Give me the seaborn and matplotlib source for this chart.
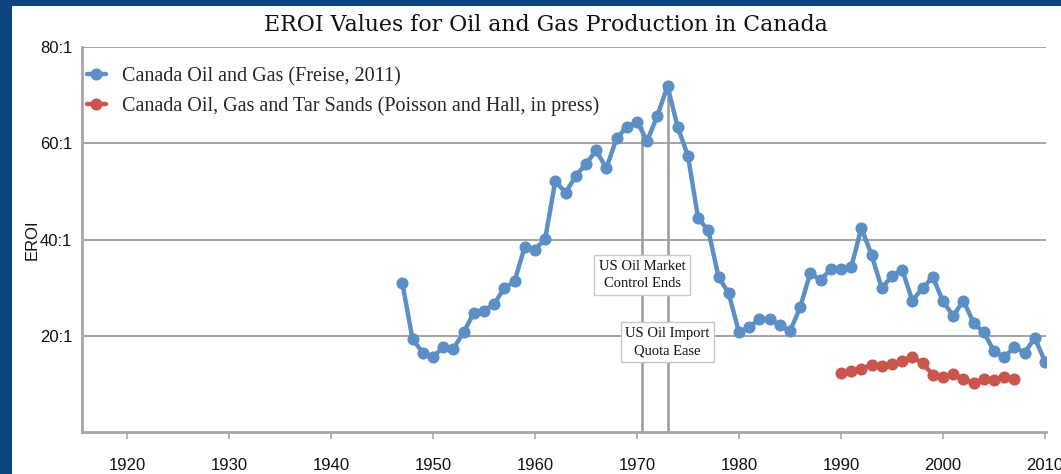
import numpy as np
import pandas as pd
import matplotlib
matplotlib.use("Agg")
import matplotlib.pyplot as plt
import seaborn as sns
from matplotlib.patches import Rectangle
from matplotlib.lines import Line2D

# ---- data ----
freise_years = list(range(1947, 2011))
freise_eroi = [31.0, 19.3, 16.5, 15.5, 17.7, 17.3, 20.7, 24.7, 25.2, 26.6,
               29.9, 31.3, 38.5, 37.9, 40.1, 52.2, 49.7, 53.2, 55.7, 58.5,
               54.8, 61.0, 63.4, 64.5, 60.5, 65.7, 71.9, 63.3, 57.4, 44.4,
               41.9, 32.2, 28.8, 20.7, 21.8, 23.4, 23.5, 22.2, 20.9, 25.9,
               33.1, 31.5, 33.9, 33.9, 34.2, 42.4, 36.8, 29.9, 32.4, 33.7,
               27.3, 29.9, 32.2, 27.2, 24.1, 27.3, 22.7, 20.7, 16.8, 15.5,
               17.7, 16.4, 19.6, 14.6]
ph_years = list(range(1990, 2008))
ph_eroi = [12.3, 12.7, 13.1, 13.9, 13.7, 14.1, 14.8, 15.6, 14.3, 11.9,
           11.4, 12.1, 11.0, 10.2, 11.0, 10.8, 11.4, 11.0]
series_names = ["Canada Oil and Gas (Freise, 2011)",
                "Canada Oil, Gas and Tar Sands (Poisson and Hall, in press)"]
ytick_vals = [20, 40, 60, 80]
ytick_labels = ["20:1", "40:1", "60:1", "80:1"]
xtick_vals = list(range(1920, 2011, 10))
events = ["US Oil Market\nControl Ends", "US Oil Import\nQuota Ease"]
event_years = [1970.5, 1973.0]
event_tops = [63.5, 71.9]
event_label_y = [32.6, 18.7]

df = pd.DataFrame({
    "year": freise_years + ph_years,
    "eroi": freise_eroi + ph_eroi,
    "series": [series_names[0]] * len(freise_years) + [series_names[1]] * len(ph_years),
})

# ---- style ----
sns.set_theme(style="white")
blue = "#5b8fc6"
red = "#c9554f"
grid_c = "#a6a6a6"
serif = ["Liberation Serif", "DejaVu Serif"]
sans = ["Liberation Sans", "DejaVu Sans"]

fig = plt.figure(figsize=(10.61, 4.74), dpi=100)
fig.patch.set_facecolor("#0d437f")
fig.add_artist(Rectangle((12 / 1061, 0), 1 - 12 / 1061, 1 - 6 / 474,
                         transform=fig.transFigure, facecolor="white",
                         edgecolor="none", zorder=0))

ax = fig.add_axes([82 / 1061, 1 - 432 / 474, (1046 - 82) / 1061, (432 - 47) / 474])
ax.set_facecolor("none")

# gridlines
for v in ytick_vals:
    ax.axhline(v, color=grid_c, lw=1.5, zorder=1)

# event lines
for yr, top in zip(event_years, event_tops):
    ax.vlines(yr, 0, top, color="#9a9a9a", lw=1.8, zorder=2)

sns.lineplot(data=df, x="year", y="eroi", hue="series",
             palette=[blue, red], marker="o", markersize=8.7,
             markeredgewidth=0, linewidth=3.2, ax=ax, legend=False, zorder=4)

for txt, yr, yl in zip(events, event_years, event_label_y):
    ax.text(yr, yl, txt, ha="center", va="center", fontsize=10.5,
            family=serif, color="#111111", linespacing=1.45, zorder=3,
            bbox=dict(boxstyle="square,pad=0.3", facecolor="white",
                      edgecolor="#c8c8c8", lw=1.0))

ax.set_xlim(1915.6, 2010.1)
ax.set_ylim(0, 80)
ax.set_yticks(ytick_vals)
ax.set_yticklabels(ytick_labels)
ax.set_xticks(xtick_vals)
ax.set_xticklabels([str(x) for x in xtick_vals])
for lab in ax.get_xticklabels() + ax.get_yticklabels():
    lab.set_fontfamily(sans)
    lab.set_fontsize(12)
    lab.set_color("#111111")
ax.tick_params(axis="x", length=5, width=1.2, color=grid_c, bottom=True,
               direction="out", pad=14)
ax.tick_params(axis="y", length=0, pad=7)
for s in ["top", "right"]:
    ax.spines[s].set_visible(False)
for s in ["left", "bottom"]:
    ax.spines[s].set_color(grid_c)
    ax.spines[s].set_linewidth(2)
ax.set_xlabel("")
ax.set_ylabel("EROI", fontsize=12, family=sans, color="#111111", labelpad=2)
ax.yaxis.set_label_coords(-0.0437, 0.5)

handles = [Line2D([], [], color=c, marker="o", markersize=8.7, lw=3.2,
                  markeredgewidth=0) for c in (blue, red)]
leg = ax.legend(handles, series_names, loc="upper left",
                bbox_to_anchor=(-0.009, 0.985), frameon=False,
                prop={"family": serif, "size": 14.5}, handlelength=0.9,
                handletextpad=0.8, labelspacing=0.5, borderaxespad=0.3)

fig.text(546 / 1061, 1 - 25 / 474, "EROI Values for Oil and Gas Production in Canada",
         ha="center", va="center", fontsize=15.8, family=["DejaVu Serif"],
         color="#111111")

fig.savefig("out.png", dpi=100, facecolor=fig.get_facecolor())
